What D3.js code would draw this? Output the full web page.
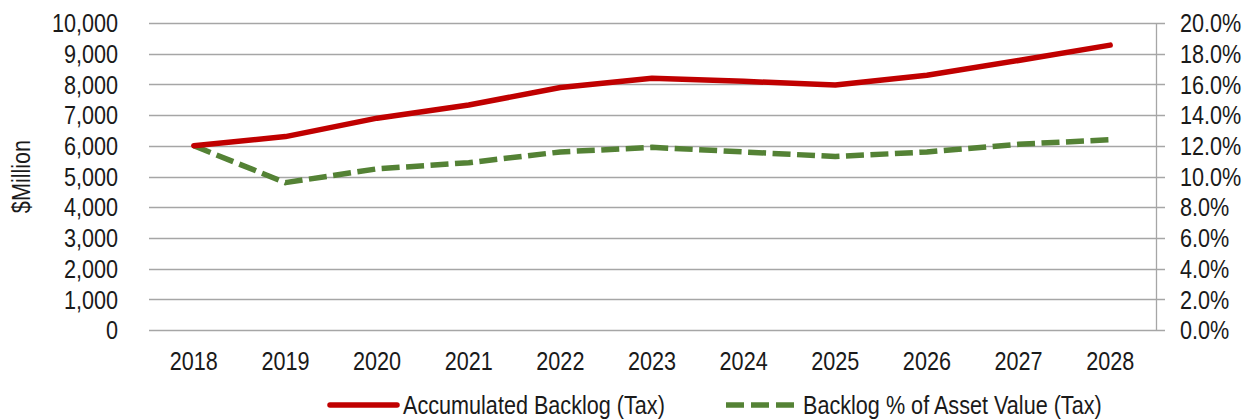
<!DOCTYPE html>
<html>
<head>
<meta charset="utf-8">
<script src="https://cdn.jsdelivr.net/npm/d3@7"></script>
<style>
    body { margin: 0; background: #fff; }
    svg text { font-family: "Liberation Sans", Arial, sans-serif; fill: #1a1a1a; }
</style>
</head>
<body>
<div id="chart"></div>
<script>
// chart data
var years = ["2018", "2019", "2020", "2021", "2022", "2023", "2024", "2025", "2026", "2027", "2028"];
var backlog = [6000, 6300, 6900, 7330, 7900, 8200, 8100, 7980, 8300, 8780, 9280];
var backlogPct = [0.120, 0.096, 0.105, 0.109, 0.116, 0.119, 0.116, 0.113, 0.116, 0.121, 0.124];
var leftTicks = [0, 1000, 2000, 3000, 4000, 5000, 6000, 7000, 8000, 9000, 10000];
var rightTicks = [0, 0.02, 0.04, 0.06, 0.08, 0.10, 0.12, 0.14, 0.16, 0.18, 0.20];
var seriesNames = ["Accumulated Backlog (Tax)", "Backlog % of Asset Value (Tax)"];

var width = 1250, height = 420;
var margin = { top: 23, right: 94, bottom: 90, left: 148 };
var plotW = width - margin.left - margin.right;   // 1008
var plotH = height - margin.top - margin.bottom;  // 307

var red = "#c00000", green = "#548235", gridColor = "#a6a6a6";
var fontSize = 25;
var narrow = 0.865; // no narrow font installed, squeeze Liberation Sans instead

// squeeze text horizontally, keeping its anchor x where it was
function squeeze(sel) {
    sel.each(function () {
        var t = d3.select(this);
        var xv = +(t.attr("x") || 0);
        var tr = t.attr("transform") || "";
        t.attr("x", xv / narrow)
            .attr("transform", tr + " scale(" + narrow + ",1)");
    });
}

var svg = d3.select("#chart").append("svg")
    .attr("width", width)
    .attr("height", height);

var g = svg.append("g")
    .attr("transform", "translate(" + margin.left + "," + margin.top + ")");

var x = d3.scaleBand().domain(years).range([0, plotW]);
var yLeft = d3.scaleLinear().domain([0, 10000]).range([plotH, 0]);
var yRight = d3.scaleLinear().domain([0, 0.20]).range([plotH, 0]);

// gridlines (extend out into right tick marks)
g.append("g")
    .selectAll("line")
    .data(leftTicks)
    .enter().append("line")
    .attr("x1", 1)
    .attr("x2", plotW + 9)
    .attr("y1", function (d) { return Math.round(yLeft(d)) + 0.5; })
    .attr("y2", function (d) { return Math.round(yLeft(d)) + 0.5; })
    .attr("stroke", gridColor)
    .attr("stroke-width", 1.3);

// right axis line
g.append("line")
    .attr("x1", plotW + 0.5).attr("x2", plotW + 0.5)
    .attr("y1", 0).attr("y2", plotH)
    .attr("stroke", gridColor)
    .attr("stroke-width", 1.3);

// left axis labels
var leftAxis = g.append("g")
    .call(d3.axisLeft(yLeft).tickValues(leftTicks).tickSize(0).tickPadding(30)
        .tickFormat(d3.format(",")));
leftAxis.select(".domain").remove();
leftAxis.selectAll("text").style("font-size", fontSize + "px").attr("dy", "0.35em").call(squeeze);

// right axis labels
var rightAxis = g.append("g")
    .attr("transform", "translate(" + plotW + ",0)")
    .call(d3.axisRight(yRight).tickValues(rightTicks).tickSize(0).tickPadding(24)
        .tickFormat(d3.format(".1%")));
rightAxis.select(".domain").remove();
rightAxis.selectAll("text").style("font-size", fontSize + "px").attr("dy", "0.35em").call(squeeze);

// x axis labels
var xAxis = g.append("g")
    .attr("transform", "translate(0," + plotH + ")")
    .call(d3.axisBottom(x).tickSize(0).tickPadding(22));
xAxis.select(".domain").remove();
xAxis.selectAll("text").style("font-size", fontSize + "px").call(squeeze);

// y axis title
svg.append("text")
    .attr("transform", "translate(30," + (margin.top + plotH / 2) + ") rotate(-90)")
    .attr("text-anchor", "middle")
    .style("font-size", fontSize + "px")
    .text("$Million")
    .call(squeeze);

// lines
var lineLeft = d3.line()
    .x(function (d, i) { return x(years[i]) + x.bandwidth() / 2; })
    .y(function (d) { return yLeft(d); });
var lineRight = d3.line()
    .x(function (d, i) { return x(years[i]) + x.bandwidth() / 2; })
    .y(function (d) { return yRight(d); });

g.append("path")
    .datum(backlogPct)
    .attr("d", lineRight)
    .attr("fill", "none")
    .attr("stroke", green)
    .attr("stroke-width", 5.5)
    .attr("stroke-dasharray", "18,6.5")
    .attr("stroke-linejoin", "round");

g.append("path")
    .datum(backlog)
    .attr("d", lineLeft)
    .attr("fill", "none")
    .attr("stroke", red)
    .attr("stroke-width", 5.5)
    .attr("stroke-linejoin", "round")
    .attr("stroke-linecap", "round");

// legend
var legendY = 405;
var legend = svg.append("g");
legend.append("line")
    .attr("x1", 330).attr("x2", 397)
    .attr("y1", legendY).attr("y2", legendY)
    .attr("stroke", red).attr("stroke-width", 5.5).attr("stroke-linecap", "round");
legend.append("text")
    .attr("x", 403).attr("y", legendY).attr("dy", "0.35em")
    .style("font-size", fontSize + "px")
    .text(seriesNames[0])
    .call(squeeze);
legend.append("line")
    .attr("x1", 726).attr("x2", 795)
    .attr("y1", legendY).attr("y2", legendY)
    .attr("stroke", green).attr("stroke-width", 5.5).attr("stroke-dasharray", "18,7");
legend.append("text")
    .attr("x", 803).attr("y", legendY).attr("dy", "0.35em")
    .style("font-size", fontSize + "px")
    .text(seriesNames[1])
    .call(squeeze);
</script>
</body>
</html>
